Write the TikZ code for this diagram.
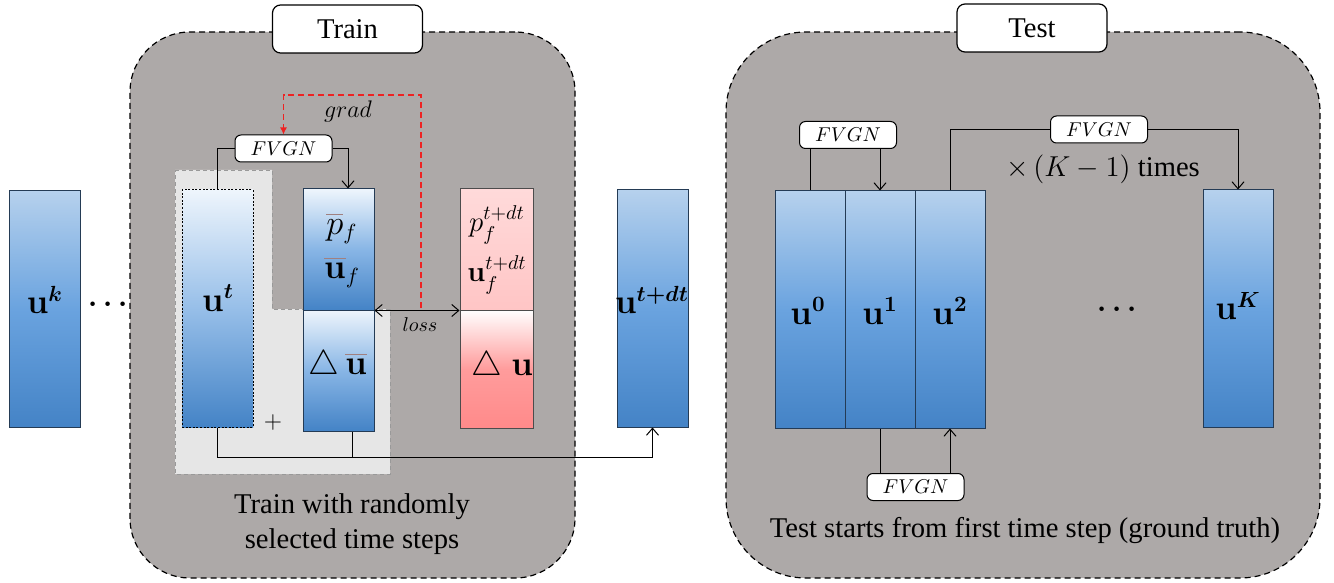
\documentclass[tikz,border=0pt]{standalone}
\usepackage[no-math]{fontspec}
\setmainfont{Liberation Serif}
\usepackage{amsmath}
\usetikzlibrary{arrows.meta}

\definecolor{panelgray}{HTML}{ADA9A8}
\definecolor{subgray}{HTML}{E6E6E6}
\definecolor{coledge}{HTML}{243B55}
\definecolor{bluetop}{HTML}{B6D1ED}
\definecolor{bluemid}{HTML}{6AA3DF}
\definecolor{bluebot}{HTML}{4483C6}
\definecolor{paletop}{HTML}{EEF5FC}
\definecolor{redtop}{HTML}{FFDADA}
\definecolor{redbot}{HTML}{FFC5C5}
\definecolor{redmid}{HTML}{FF9C9C}
\definecolor{reddeep}{HTML}{FF8A8A}
\definecolor{gradred}{HTML}{EE2222}
\definecolor{barcol}{HTML}{A08080}

\newcommand{\cbar}[1]{{\color{barcol}\overline{\color{black}#1}}}
\newcommand{\bu}[1]{\mathbf{u}^{\boldsymbol{#1}}}

\begin{document}
\begin{tikzpicture}[x=0.5pt,y=-0.5pt]

\tikzset{panel/.style = {draw,dash pattern=on 3pt off 2pt,fill=panelgray,line width=0.6pt,minimum height=273pt,inner sep=0pt}}
\tikzset{title/.style = {draw,fill=white,rounded corners=4pt,line width=0.6pt,minimum width=75pt,minimum height=24pt,font=\fontsize{14.3}{17}\selectfont}}
\tikzset{fvgn/.style = {draw,fill=white,rounded corners=3pt,line width=0.5pt,minimum width=48.5pt,minimum height=13.5pt,inner sep=0pt,font=\fontsize{10}{12}\selectfont}}
\tikzset{col/.style = {draw=coledge,line width=0.5pt,minimum width=35.5pt,minimum height=118.5pt,inner sep=0pt,top color=bluetop,bottom color=bluebot,middle color=bluemid}}
\tikzset{halfcol/.style = {draw=coledge,line width=0.5pt,minimum width=35.5pt,minimum height=60.5pt,inner sep=0pt,top color=paletop,bottom color=bluebot,middle color=bluemid!80}}
\tikzset{lab/.style = {inner sep=0pt,font=\fontsize{16}{18}\selectfont}}
\tikzset{txt/.style = {inner sep=0pt,font=\fontsize{14.3}{17.5}\selectfont,align=center}}
\tikzset{conn/.style = {line width=0.5pt,>={Straight Barb[length=3.5pt,width=6pt]}}}
\tikzset{gradline/.style = {gradred,line width=0.6pt,dash pattern=on 3pt off 2pt}}

\useasboundingbox (0,0) rectangle (1334,583);

% panels and their titles
\node[panel,rounded corners=30pt,minimum width=222.5pt] (trainbox) at (352.5,305) {};
\node[panel,rounded corners=40pt,minimum width=297pt] (testbox) at (1023,305) {};
\node[title] (traintitle) at (347.5,29) {Train};
\node[title] (testtitle) at (1032,28) {Test};

% region of the sampled step
\draw[gray!80,dash pattern=on 2pt off 1.5pt,line width=0.4pt,fill=subgray]
  (175,170) -- (272,170) -- (272,309) -- (390,309) -- (390,474) -- (175,474) -- cycle;

% columns, train side
\node[col] (uk) at (44.5,309) {};
\node[col,draw=black,dash pattern=on 1pt off 0.8pt,top color=paletop,bottom color=bluebot,middle color=bluemid!70] (ut) at (217.5,308.5) {};
\node[halfcol] (pf) at (338.5,249.5) {};
\node[halfcol] (du) at (338.5,370.5) {};
\node[draw=black!70,line width=0.5pt,minimum width=36.5pt,minimum height=60.5pt,inner sep=0pt,top color=redtop,bottom color=redbot] (pT) at (496.5,249.5) {};
\node[draw=black!70,line width=0.5pt,minimum width=36.5pt,minimum height=59pt,inner sep=0pt,top color=white,bottom color=reddeep,middle color=redmid] (dT) at (496.5,369) {};
\node[col] (utdt) at (652.5,308.5) {};

% columns, test side
\node[col,minimum width=35pt] (u0) at (810,309.5) {};
\node[col,minimum width=35pt] (u1) at (880,309.5) {};
\node[col,minimum width=35pt] (u2) at (950,309.5) {};
\node[col,minimum width=35pt] (uK) at (1238,308.5) {};

% labels
\node[lab] (ukl) at (45,300) {$\bu{k}$};
\node[lab] (utl) at (218,298) {$\bu{t}$};
\node[lab] (pfl) at (342,228) {$\cbar{p}_{f}$};
\node[lab] (ufl) at (342,272) {$\cbar{\mathbf{u}}_{f}$};
\node[lab] (dul) at (338,366) {$\triangle\,\cbar{\mathbf{u}}$};
\node[lab,font=\fontsize{14}{16}\selectfont] (pTl) at (497,225) {$p_f^{t+dt}$};
\node[lab,font=\fontsize{14}{16}\selectfont] (uTl) at (497,275) {$\mathbf{u}_f^{t+dt}$};
\node[lab] (dTl) at (502,367) {$\triangle\;\mathbf{u}$};
\node[lab] (utdtl) at (652,300) {$\bu{t+dt}$};
\node[lab] (u0l) at (808,311) {$\mathbf{u}^{\mathbf{0}}$};
\node[lab] (u1l) at (880,311) {$\mathbf{u}^{\mathbf{1}}$};
\node[lab] (u2l) at (950,311) {$\mathbf{u}^{\mathbf{2}}$};
\node[lab] (uKl) at (1238,306) {$\bu{K}$};
\node[lab,font=\fontsize{14}{16}\selectfont] (dotsA) at (111,305) {$\boldsymbol{\cdots}$};
\node[lab,font=\fontsize{14}{16}\selectfont] (dotsB) at (1120,310) {$\boldsymbol{\cdots}$};
\node[lab,font=\fontsize{12}{14}\selectfont] (plus) at (273,422) {$+$};

% train connections
\node[fvgn] (fvgnA) at (283.5,148.5) {$FVGN$};
\coordinate (gradfoot) at (421,308);
\draw[gradline,-{Latex[length=3.5pt,width=3.5pt]}] (gradfoot) -- ++(0,-213) -| (fvgnA.north);
\draw[conn,<->] (pf.south east) -- (pT.south west);
\draw[conn] (fvgnA.west) -| (ut.north);
\draw[conn,->] (fvgnA.east) -| ([xshift=4.75pt]pf.north);
\draw[conn,->] (ut.south) -- ++(0,30) coordinate (sumrow) -| (utdt.south);
\draw[conn] ([xshift=6.75pt]du.south) -- ([xshift=6.75pt]du.south |- sumrow);
\node[inner sep=0pt,font=\fontsize{13}{15}\selectfont] (gradl) at (348,112) {$grad$};
\node[inner sep=0pt,font=\fontsize{10}{12}\selectfont] (lossl) at (420,325) {$loss$};

% test connections
\node[fvgn] (fvgnB) at (848,135) {$FVGN$};
\node[fvgn] (fvgnC) at (915.5,487) {$FVGN$};
\node[fvgn] (fvgnD) at (1099,129.5) {$FVGN$};
\draw[conn] (u0.north) -- (u0.north |- fvgnB.south);
\draw[conn,->] (u1.north |- fvgnB.south) -- (u1.north);
\draw[conn] (u1.south) -- (u1.south |- fvgnC.north);
\draw[conn,->] (u2.south |- fvgnC.north) -- (u2.south);
\draw[conn] (u2.north) |- (fvgnD.west);
\draw[conn,->] (fvgnD.east) -| (uK.north);
\node[txt] (times) at (1103,169) {$\times\,(K-1)$ times};

% captions
\node[txt] (traincap) at (352,524) {Train with randomly\\selected time steps};
\node[txt] (testcap) at (1025,531) {Test starts from first time step (ground truth)};

\end{tikzpicture}
\end{document}
